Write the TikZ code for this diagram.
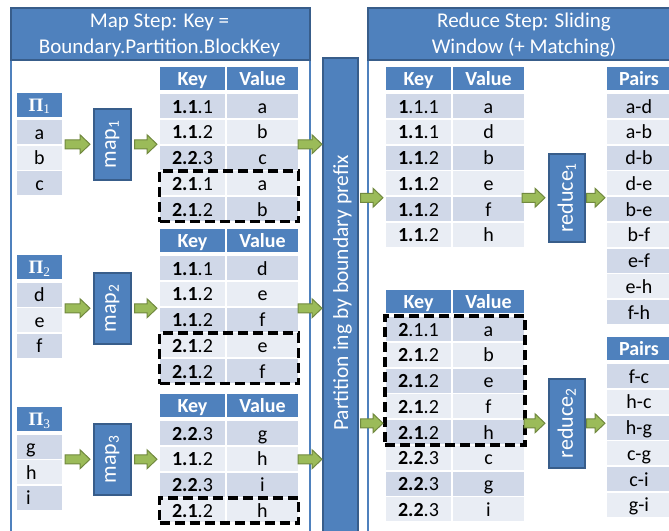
\documentclass[tikz,border=0pt]{standalone}
\usepackage{fontspec}
\setmainfont{Carlito}
\newfontfamily\greekfont{Liberation Serif}
\usetikzlibrary{calc,fit}

\definecolor{hdrblue}{HTML}{4F81BD}
\definecolor{hdrline}{HTML}{385D8A}
\definecolor{rowdark}{HTML}{D0D8E8}
\definecolor{rowlight}{HTML}{E9EDF4}
\definecolor{arrfill}{HTML}{9BBB59}
\definecolor{arrline}{HTML}{71893F}

\tikzset{
  cellbase/.style={anchor=north west, inner sep=0pt, outer sep=0pt,
    text height=16pt, text depth=2pt, font=\fontsize{20}{22}\selectfont, text=black},
  hdrcell/.style={cellbase, fill=hdrblue, text=white, font=\fontsize{20}{22}\selectfont\bfseries},
  darkcell/.style={cellbase, fill=rowdark},
  lightcell/.style={cellbase, fill=rowlight},
  leftcell/.style={text width=27pt, align=left},
  plaincell/.style={},
  procbox/.style={anchor=north west, fill=hdrblue, draw=hdrline, line width=1.5pt,
    text=white, inner sep=0pt, font=\fontsize{22}{24}\selectfont},
  dashbox/.style={draw=black, line width=3.5pt, dash pattern=on 10pt off 5pt, inner sep=1pt},
  arrowbody/.style={fill=arrfill, draw=arrline, line width=1pt, line join=miter},
  panelhead/.style={anchor=north west, fill=hdrblue, draw=hdrline, line width=1.5pt, inner sep=0pt},
  panelframe/.style={anchor=north west, draw=hdrblue, line width=1.5pt, inner sep=0pt},
  headtext/.style={anchor=base, align=center, text=white, font=\fontsize{21}{26}\selectfont},
}

\newcommand\B[1]{\textbf{#1}}

% input partition table: name, top, index, rows, row style
\newcommand\pitable[5]{%
  \node[hdrcell, minimum width=45pt, minimum height=24pt, text height=15pt,
        font=\fontsize{19}{21}\selectfont\greekfont\bfseries] (#1h) at (17,#2) {Π\textsubscript{\mdseries #3}};
  \foreach \cellval [count=\i] in {#4} {
    \pgfmathsetmacro\rowy{#2+27.5+(\i-1)*25.5}
    \ifodd\i\def\shade{darkcell}\else\def\shade{lightcell}\fi
    \node[\shade, #5, minimum width=45pt, minimum height=24pt] (#1r\i) at (17,\rowy) {\cellval};
  }}

% key/value table: name, left x, top y, rows key/value
\newcommand\kvtable[4]{%
  \node[hdrcell, minimum width=65pt, minimum height=23pt] (#1hk) at (#2,#3) {Key};
  \node[hdrcell, minimum width=71pt, minimum height=23pt] (#1hv) at (#2+67,#3) {Value};
  \foreach \cellkey/\cellval [count=\i] in {#4} {
    \pgfmathsetmacro\rowy{#3+27+(\i-1)*25.75}
    \ifodd\i\def\shade{darkcell}\else\def\shade{lightcell}\fi
    \node[\shade, minimum width=65pt, minimum height=24pt] (#1k\i) at (#2,\rowy) {\cellkey};
    \node[\shade, minimum width=71pt, minimum height=24pt] (#1v\i) at (#2+67,\rowy) {\cellval};
  }}

% pairs table: name, top y, rows
\newcommand\pairtable[3]{%
  \node[hdrcell, minimum width=64pt, minimum height=23pt] (#1h) at (607,#2) {Pairs};
  \foreach \cellval [count=\i] in {#3} {
    \pgfmathsetmacro\rowy{#2+27+(\i-1)*25.75}
    \ifodd\i\def\shade{darkcell}\else\def\shade{lightcell}\fi
    \node[\shade, minimum width=64pt, minimum height=24pt] (#1r\i) at (607,\rowy) {\cellval};
  }}

% green block arrow: from, to, node giving the height, start gap, end gap
\newcommand\garrow[5]{%
  \path[arrowbody] let \p1=(#1), \p2=(#2), \p3=(#3) in
    ({\x1+(#4)*1pt},{\y3+4.5pt}) -- ({\x2-(#5)*1pt-10pt},{\y3+4.5pt})
    -- ({\x2-(#5)*1pt-10pt},{\y3+9.5pt}) -- ({\x2-(#5)*1pt},\y3)
    -- ({\x2-(#5)*1pt-10pt},{\y3-9.5pt}) -- ({\x2-(#5)*1pt-10pt},{\y3-4.5pt})
    -- ({\x1+(#4)*1pt},{\y3-4.5pt}) -- cycle;}

\begin{document}
\begin{tikzpicture}[x=1pt,y=-1pt]
\useasboundingbox (0,0) rectangle (669,530);

% the two step panels
\node[panelframe, minimum width=299pt, minimum height=540pt] (lpanel) at (10,7) {};
\node[panelhead, minimum width=299pt, minimum height=52pt] (lhead) at (10,7) {};
\node[headtext] (lheadtxt) at (159.5,53) {Map Step: Key =\\Boundary.Partition.BlockKey};

\node[panelframe, minimum width=316pt, minimum height=540pt] (rpanel) at (367,7) {};
\node[panelhead, minimum width=316pt, minimum height=52pt] (rhead) at (367,7) {};
\node[headtext] (rheadtxt) at (524,53) {Reduce Step: Sliding\\Window (+ Matching)};

% partitioning bar
\node[procbox, minimum width=35pt, minimum height=490pt] (bar) at (322,57) {};
\node[rotate=90, anchor=base, text=white, font=\fontsize{21.5}{24}\selectfont]
  (bartxt) at (348,293) {Partition ing by boundary prefix};

% input partitions
\pitable{pi1}{92.5}{1}{a,b,c}{plaincell}
\pitable{pi2}{255}{2}{d,e,f}{plaincell}
\pitable{pi3}{407}{3}{g,h,i}{leftcell}

% mappers
\node[procbox, minimum width=37pt, minimum height=71pt] (map1) at (93,108) {\rotatebox{90}{map\textsubscript{1}}};
\node[procbox, minimum width=37pt, minimum height=71pt] (map2) at (93,272) {\rotatebox{90}{map\textsubscript{2}}};
\node[procbox, minimum width=37pt, minimum height=71pt] (map3) at (93,423) {\rotatebox{90}{map\textsubscript{3}}};

% map outputs
\kvtable{t1}{160}{67}{\B{1.1}.1/a, \B{1.1}.2/b, \B{2.2}.3/c, \B{2.1}.1/a, \B{2.1}.2/b}
\kvtable{t2}{160}{229}{\B{1.1}.1/d, \B{1.1}.2/e, \B{1.1}.2/f, \B{2.1}.2/e, \B{2.1}.2/f}
\kvtable{t3}{160}{394}{\B{2.2}.3/g, \B{1.1}.2/h, \B{2.2}.3/i, \B{2.1}.2/h}

% reducer inputs
\kvtable{r1}{386}{67}{\B{1}.1.1/a, \B{1.1}.1/d, \B{1.1}.2/b, \B{1.1}.2/e, \B{1.1}.2/f, \B{1.1}.2/h}
\kvtable{r2}{386}{290}{\B{2}.1.1/a, \B{2.1}.2/b, \B{2.1}.2/e, \B{2.1}.2/f, \B{2.1}.2/h, \B{2.2}.3/c, \B{2.2}.3/g, \B{2.2}.3/i}

% reducers
\node[procbox, minimum width=36pt, minimum height=88pt] (red1) at (548,153) {\rotatebox{90}{reduce\textsubscript{1}}};
\node[procbox, minimum width=36pt, minimum height=89pt] (red2) at (548,378) {\rotatebox{90}{reduce\textsubscript{2}}};

% reducer outputs
\pairtable{p1}{67}{a-d, a-b, d-b, d-e, b-e, b-f, e-f, e-h, f-h}
\pairtable{p2}{337}{f-c, h-c, h-g, c-g, c-i, g-i}

% replicated boundary records
\node[dashbox, inner sep=0.5pt, fit=(t1k4)(t1v5)] (dash1) {};
\node[dashbox, inner sep=0.5pt, fit=(t2k4)(t2v5)] (dash2) {};
\node[dashbox, inner sep=0.5pt, fit=(t3k4)(t3v4)] (dash3) {};
\node[dashbox, fit=(r2k1)(r2v5)] (dash4) {};

% data flow
\garrow{pi1h.east}{map1.west}{map1}{3}{3}
\garrow{map1.east}{t1hk.west}{map1}{3}{3}
\garrow{t1hv.east}{bar.west}{map1}{0}{0}
\garrow{pi2h.east}{map2.west}{map2}{3}{3}
\garrow{map2.east}{t2hk.west}{map2}{3}{3}
\garrow{t2hv.east}{bar.west}{map2}{0}{0}
\garrow{pi3h.east}{map3.west}{map3}{3}{3}
\garrow{map3.east}{t3hk.west}{map3}{3}{3}
\garrow{t3hv.east}{bar.west}{map3}{0}{0}
\garrow{bar.east}{r1hk.west}{red1}{2}{3}
\garrow{r1hv.east}{red1.west}{red1}{-2}{3}
\garrow{red1.east}{p1h.west}{red1}{1}{2}
\garrow{bar.east}{r2hk.west}{red2}{2}{3}
\garrow{r2hv.east}{red2.west}{red2}{0}{3}
\garrow{red2.east}{p2h.west}{red2}{1}{2}
\end{tikzpicture}
\end{document}
